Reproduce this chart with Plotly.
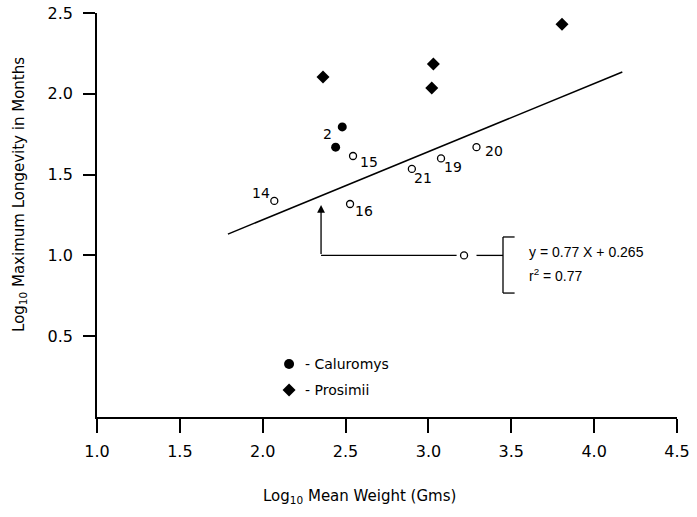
import plotly.graph_objects as go

# ---- data ----
open_x = [2.07, 2.545, 2.527, 2.90, 3.076, 3.29]
open_y = [1.337, 1.615, 1.318, 1.535, 1.60, 1.67]
open_labels = ["14", "15", "16", "21", "19", "20"]

caluromys_x = [2.48, 2.44]
caluromys_y = [1.795, 1.67]
caluromys_labels = ["2", ""]

prosimii_x = [2.364, 3.03, 3.02, 3.806]
prosimii_y = [2.104, 2.184, 2.036, 2.43]

line_x = [1.79, 4.17]
line_y = [1.132, 2.135]

eq_point_x = [3.215]
eq_point_y = [1.0]

x_ticks = [1.0, 1.5, 2.0, 2.5, 3.0, 3.5, 4.0, 4.5]
y_ticks = [0.5, 1.0, 1.5, 2.0, 2.5]

# ---- styling / placement ----
FONT = "Liberation Sans"
WIDE = "DejaVu Sans"
BLACK = "black"
label_shift = {  # (xshift, yshift) in px for point labels
    "14": (-13, 8), "15": (16, -6), "16": (14, -7),
    "21": (11, -9), "19": (12, -9), "20": (18, -4), "2": (-15, -7),
}

fig = go.Figure()

fig.add_trace(go.Scatter(x=line_x, y=line_y, mode="lines",
                         line=dict(color=BLACK, width=1.5), hoverinfo="skip"))
fig.add_trace(go.Scatter(x=open_x, y=open_y, mode="markers",
                         marker=dict(symbol="circle-open", size=7, color=BLACK,
                                     line=dict(width=1.3, color=BLACK))))
fig.add_trace(go.Scatter(x=caluromys_x, y=caluromys_y, mode="markers",
                         marker=dict(symbol="circle", size=9, color=BLACK)))
fig.add_trace(go.Scatter(x=prosimii_x, y=prosimii_y, mode="markers",
                         marker=dict(symbol="diamond", size=10, color=BLACK)))
fig.add_trace(go.Scatter(x=eq_point_x, y=eq_point_y, mode="markers",
                         marker=dict(symbol="circle-open", size=7, color=BLACK,
                                     line=dict(width=1.3, color=BLACK))))

annotations = []
for xs, ys, labs in [(open_x, open_y, open_labels),
                     (caluromys_x, caluromys_y, caluromys_labels)]:
    for x, y, t in zip(xs, ys, labs):
        if not t:
            continue
        dx, dy = label_shift[t]
        annotations.append(dict(x=x, y=y, text=t, showarrow=False,
                                xshift=dx, yshift=dy,
                                font=dict(family=WIDE, size=14, color=BLACK)))

# arrow pointing up toward the line
arrow_x = 2.352
arrow_top = 1.312
annotations.append(dict(x=arrow_x, y=arrow_top, ax=arrow_x, ay=eq_point_y[0],
                        xref="x", yref="y", axref="x", ayref="y",
                        showarrow=True, arrowhead=2, arrowsize=1.2,
                        arrowwidth=1.3, arrowcolor=BLACK, text=""))

# equation text
annotations.append(dict(x=3.595, y=1.02, xref="x", yref="y", xanchor="left",
                        text="y = 0.77 X + 0.265", showarrow=False,
                        font=dict(family=FONT, size=14, color=BLACK)))
annotations.append(dict(x=3.595, y=0.878, xref="x", yref="y", xanchor="left",
                        text="r<sup>2</sup> = 0.77", showarrow=False,
                        font=dict(family=FONT, size=14, color=BLACK)))

# legend text
annotations.append(dict(x=2.243, y=0.328, xref="x", yref="y", xanchor="left",
                        text="- Caluromys", showarrow=False,
                        font=dict(family=WIDE, size=14, color=BLACK)))
annotations.append(dict(x=2.243, y=0.167, xref="x", yref="y", xanchor="left",
                        text="- Prosimii", showarrow=False,
                        font=dict(family=WIDE, size=14, color=BLACK)))

# axis titles
annotations.append(dict(x=-0.1328, y=0.552, xref="paper", yref="paper",
                        xanchor="center", yanchor="middle",
                        text="Log<sub>10</sub> Maximum Longevity in Months",
                        textangle=-90, showarrow=False,
                        font=dict(family=WIDE, size=15, color=BLACK)))
annotations.append(dict(x=0.4534, y=-0.198, xref="paper", yref="paper",
                        xanchor="center", yanchor="middle",
                        text="Log<sub>10</sub> Mean Weight (Gms)",
                        showarrow=False,
                        font=dict(family=WIDE, size=15, color=BLACK)))

# legend markers
fig.add_trace(go.Scatter(x=[2.159], y=[0.328], mode="markers",
                         marker=dict(symbol="circle", size=10, color=BLACK)))
fig.add_trace(go.Scatter(x=[2.159], y=[0.167], mode="markers",
                         marker=dict(symbol="diamond", size=10, color=BLACK)))

line_style = dict(color=BLACK, width=1.3)
shapes = [
    dict(type="line", xref="x", yref="y", x0=arrow_x, y0=eq_point_y[0],
         x1=3.17, y1=eq_point_y[0], line=line_style),
    dict(type="line", xref="x", yref="y", x0=3.29, y0=eq_point_y[0],
         x1=3.45, y1=eq_point_y[0], line=line_style),
    dict(type="line", xref="x", yref="y", x0=3.45, y0=0.767,
         x1=3.45, y1=1.114, line=line_style),
    dict(type="line", xref="x", yref="y", x0=3.45, y0=1.114,
         x1=3.52, y1=1.114, line=line_style),
    dict(type="line", xref="x", yref="y", x0=3.45, y0=0.767,
         x1=3.52, y1=0.767, line=line_style),
]

fig.update_layout(
    width=697, height=517,
    margin=dict(l=97, r=20, t=13, b=100, autoexpand=False),
    paper_bgcolor="white", plot_bgcolor="white",
    showlegend=False,
    annotations=annotations,
    shapes=shapes,
    font=dict(family=FONT, size=14, color=BLACK),
)
fig.update_xaxes(range=[1.0, 4.5], tickvals=x_ticks,
                 ticktext=[f"{v:.1f}" for v in x_ticks],
                 showgrid=False, zeroline=False, showline=True,
                 linecolor=BLACK, linewidth=1.5, ticks="outside",
                 ticklen=14, tickwidth=1.5, tickcolor=BLACK,
                 ticklabelstandoff=5, automargin=False,
                 tickfont=dict(family=WIDE, size=16, color=BLACK))
fig.update_yaxes(range=[0, 2.5], tickvals=y_ticks,
                 ticktext=[f"{v:.1f}" for v in y_ticks],
                 showgrid=False, zeroline=False, showline=True,
                 linecolor=BLACK, linewidth=1.5, ticks="outside",
                 ticklen=12, tickwidth=1.5, tickcolor=BLACK,
                 ticklabelstandoff=7, automargin=False,
                 tickfont=dict(family=WIDE, size=16, color=BLACK))

fig.write_html("out.html")
